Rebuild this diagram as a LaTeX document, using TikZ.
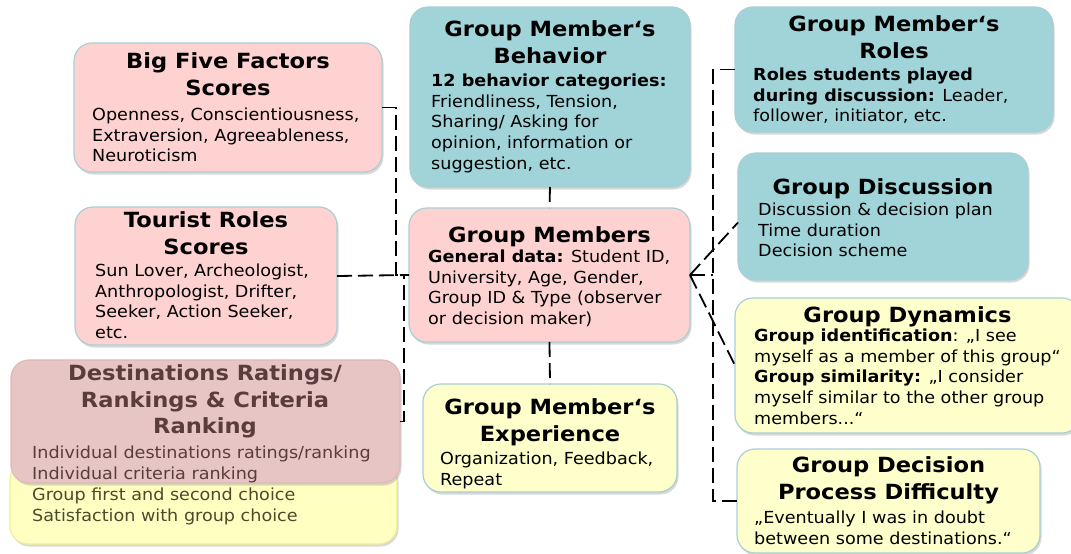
\documentclass[tikz,border=0pt]{standalone}
\usepackage{fontspec}
\setmainfont{DejaVu Sans}[FakeStretch=1.06]
\newfontfamily\titlefam{DejaVu Sans}[FakeStretch=1.08]
\usetikzlibrary{shadows}

\definecolor{pinkfill}{HTML}{FFD2D2}
\definecolor{tealfill}{HTML}{A0D4D9}
\definecolor{yellowfill}{HTML}{FFFFCC}
\definecolor{boxedge}{HTML}{A9CFD5}
\definecolor{destpink}{HTML}{E7C5C5}
\definecolor{destedge}{HTML}{E2B7B9}
\definecolor{desttext}{HTML}{5A3C3C}
\definecolor{destyellow}{HTML}{FFFFC2}
\definecolor{destyedge}{HTML}{EEEE96}
\definecolor{olivetext}{HTML}{4B4B2C}

\newcommand{\bodyfont}{\fontsize{16.6}{20.8}\selectfont}
\newcommand{\titlefont}{\titlefam\fontsize{20.9}{26.8}\selectfont\bfseries}

\begin{document}
\begin{tikzpicture}[x=1pt,y=-1pt,
  box/.style={draw=boxedge, line width=1.2pt, rounded corners=18pt,
    anchor=north west, inner sep=0pt, outer sep=0pt,
    drop shadow={shadow xshift=1.5pt, shadow yshift=-2.5pt, opacity=0.3}},
  pinkbox/.style={box, fill=pinkfill},
  tealbox/.style={box, fill=tealfill},
  yellowbox/.style={box, fill=yellowfill},
  title/.style={anchor=north, align=center, inner sep=0pt, font=\titlefont,
    execute at begin node=\strut},
  body/.style={anchor=north west, align=left, inner sep=0pt, font=\bodyfont,
    execute at begin node=\strut},
  conn/.style={draw=black, line width=1.8pt, dash pattern=on 15pt off 6pt}]

\useasboundingbox (0,0) rectangle (1071,554);
\fill[white] (0,0) rectangle (1071,554);

% ---- left column ----
\node[pinkbox, minimum width=308pt, minimum height=129pt] (bf) at (74,43) {};
\node[title] (bft) at (228,71-18.76) {Big Five Factors\\Scores};
\node[body] (bfb) at (92,122-14.56) {Openness, Conscientiousness,\\Extraversion, Agreeableness,\\Neuroticism};

\node[pinkbox, minimum width=262pt, minimum height=138pt] (tr) at (75,207) {};
\node[title] (trt) at (206,230-18.76) {Tourist Roles\\Scores};
\node[body] (trb) at (95,278-14.56) {Sun Lover, Archeologist,\\Anthropologist, Drifter,\\Seeker, Action Seeker,\\etc.};

% destinations: yellow part below, pink part laid over it
\node[box, draw=destyedge, fill=destyellow, minimum width=387pt, minimum height=82pt] (dy) at (10,462) {};
\node[box, draw=destedge, fill=destpink, minimum width=389pt, minimum height=123pt] (dr) at (11,360) {};
\node[title, text=desttext] (drt) at (205,383-18.76) {Destinations Ratings/\\Rankings \& Criteria\\Ranking};
\node[body, text=desttext] (drb) at (32,460-14.56) {Individual destinations ratings/ranking\\Individual criteria ranking};
\node[body, text=olivetext] (dyb) at (32,502-14.56) {Group first and second choice\\Satisfaction with group choice};

% ---- middle column ----
\node[tealbox, minimum width=280pt, minimum height=180pt] (gb) at (410,7) {};
\node[title] (gbt) at (550,39-18.76) {Group Member‘s\\Behavior};
\node[body] (gbb) at (431,88-14.56) {\textbf{12 behavior categories:}\\Friendliness, Tension,\\Sharing/ Asking for\\opinion, information or\\suggestion, etc.};

\node[pinkbox, minimum width=281pt, minimum height=134pt] (gm) at (409,208) {};
\node[title] (gmt) at (549.5,242-18.76) {Group Members};
\node[body] (gmb) at (428,264-14.56) {\textbf{General data:} Student ID,\\University, Age, Gender,\\Group ID \& Type (observer\\or decision maker)};

\node[yellowbox, minimum width=254pt, minimum height=108pt] (ge) at (423,384) {};
\node[title] (get) at (550,417-18.76) {Group Member‘s\\Experience};
\node[body] (geb) at (440,466-14.56) {Organization, Feedback,\\Repeat};

% ---- right column ----
\node[tealbox, minimum width=318pt, minimum height=125pt] (gr) at (735,7) {};
\node[title] (grt) at (894,34-18.76) {Group Member‘s\\Roles};
\node[body] (grb) at (753,82-14.56) {\textbf{Roles students played}\\\textbf{during discussion:} Leader,\\follower, initiator, etc.};

\node[tealbox, minimum width=290pt, minimum height=127pt] (gd) at (738,153) {};
\node[title] (gdt) at (883,194-18.76) {Group Discussion};
\node[body] (gdb) at (758,217-14.56) {Discussion \& decision plan\\Time duration\\Decision scheme};

\node[yellowbox, minimum width=345pt, minimum height=135pt] (gy) at (735,298) {};
\node[title] (gyt) at (907.5,322-18.76) {Group Dynamics};
\node[body] (gyb) at (754,343-14.56) {\textbf{Group identification}: „I see\\myself as a member of this group“\\\textbf{Group similarity:} „I consider\\myself similar to the other group\\members...“};

\node[yellowbox, minimum width=303pt, minimum height=104pt] (dd) at (737,449) {};
\node[title] (ddt) at (888.5,475-18.76) {Group Decision\\Process Difficulty};
\node[body] (ddb) at (754,525-14.56) {„Eventually I was in doubt\\between some destinations.“};

% ---- connectors ----
\coordinate (jl) at (396,0);
\coordinate (jm) at (404,0);
\coordinate (jr) at (713,0);

\draw[conn] (bf.east) -- (bf.east -| jl) |- (gm.west);
\draw[conn] (tr.east) -- (gm.west);
\draw[conn] (dr.east) -- (dr.east -| jm) |- (gm.west);
\draw[conn] (gb.south) -- (gm.north);
\draw[conn] (gm.south) -- (ge.north);

\draw[conn] (gr.west) -- (gr.west -| jr) |- (dd.west);
\draw[conn] (gm.east) -- (gm.east -| jr);
\draw[conn] (gm.east) -- ([yshift=-6pt]gd.west);
\draw[conn] (gm.east) -- (gy.west);
\end{tikzpicture}
\end{document}
